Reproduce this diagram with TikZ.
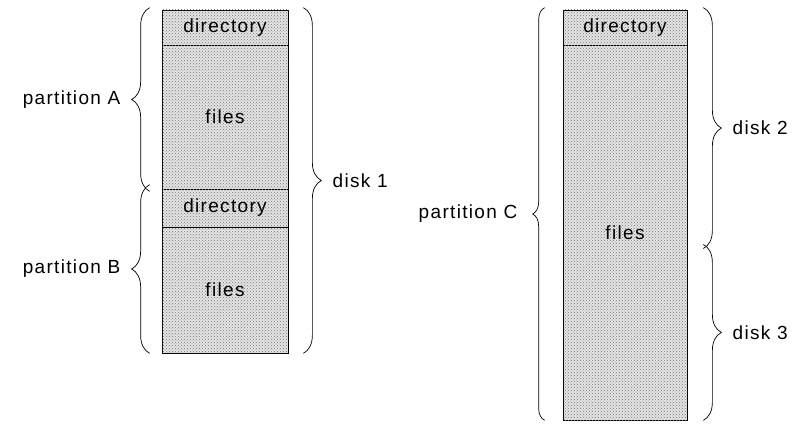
\documentclass[tikz,border=0pt]{standalone}
\usepackage{fontspec}
\setsansfont{Liberation Sans}[LetterSpace=7]
\usepackage{tikz}
\usetikzlibrary{positioning,patterns,decorations.pathreplacing}

\begin{document}
\begin{tikzpicture}[x=1pt,y=-1pt,
  area/.style={rectangle,draw,line width=0.7pt,fill=black!10,
    postaction={pattern=crosshatch dots,pattern color=black!55},
    inner sep=0pt,font=\sffamily\fontsize{19}{22}\selectfont},
  brc/.style={draw,line width=0.7pt,decorate,
    decoration={brace,amplitude=#1}},
  brc/.default=18pt,
  lbl/.style={inner sep=0pt,font=\sffamily\fontsize{19}{22}\selectfont}]
\useasboundingbox (0,0) rectangle (792,425);
% disk 1: partitions A and B
\node[area,minimum width=126pt,minimum height=35pt]  (dirA)   at (225,27.5) {directory};
\node[area,minimum width=126pt,minimum height=144pt] (filesA) at (225,117)  {files};
\node[area,minimum width=126pt,minimum height=38pt]  (dirB)   at (225,208)  {directory};
\node[area,minimum width=126pt,minimum height=126pt] (filesB) at (225,290)  {files};
% disks 2 and 3: partition C
\node[area,minimum width=124pt,minimum height=35pt]  (dirC)   at (625,27.5) {directory};
\node[area,minimum width=124pt,minimum height=375pt] (filesC) at (625,232.5) {files};
% braces
\draw[brc] ([xshift=-12pt,yshift=-2pt]filesA.south west) -- ([xshift=-12pt,yshift=2pt]dirA.north west)
  node[midway,left=29pt,lbl]{partition A};
\draw[brc] ([xshift=-12pt]filesB.south west) -- ([xshift=-12pt,yshift=4pt]dirB.north west)
  node[midway,left=29pt,lbl]{partition B};
\draw[brc] ([xshift=15pt,yshift=2pt]dirA.north east) -- ([xshift=15pt]filesB.south east)
  node[midway,right=29pt,lbl]{disk 1};
\draw[brc=12pt] ([xshift=-18pt]filesC.south west) -- ([xshift=-18pt,yshift=2pt]dirC.north west)
  node[midway,left=27pt,lbl]{partition C};
\draw[brc] ([xshift=16pt,yshift=2pt]dirC.north east) -- ([xshift=16pt,yshift=-16pt]filesC.east)
  node[midway,right=29pt,lbl]{disk 2};
\draw[brc] ([xshift=16pt,yshift=-12pt]filesC.east) -- ([xshift=16pt]filesC.south east)
  node[midway,right=29pt,lbl]{disk 3};
\end{tikzpicture}
\end{document}
